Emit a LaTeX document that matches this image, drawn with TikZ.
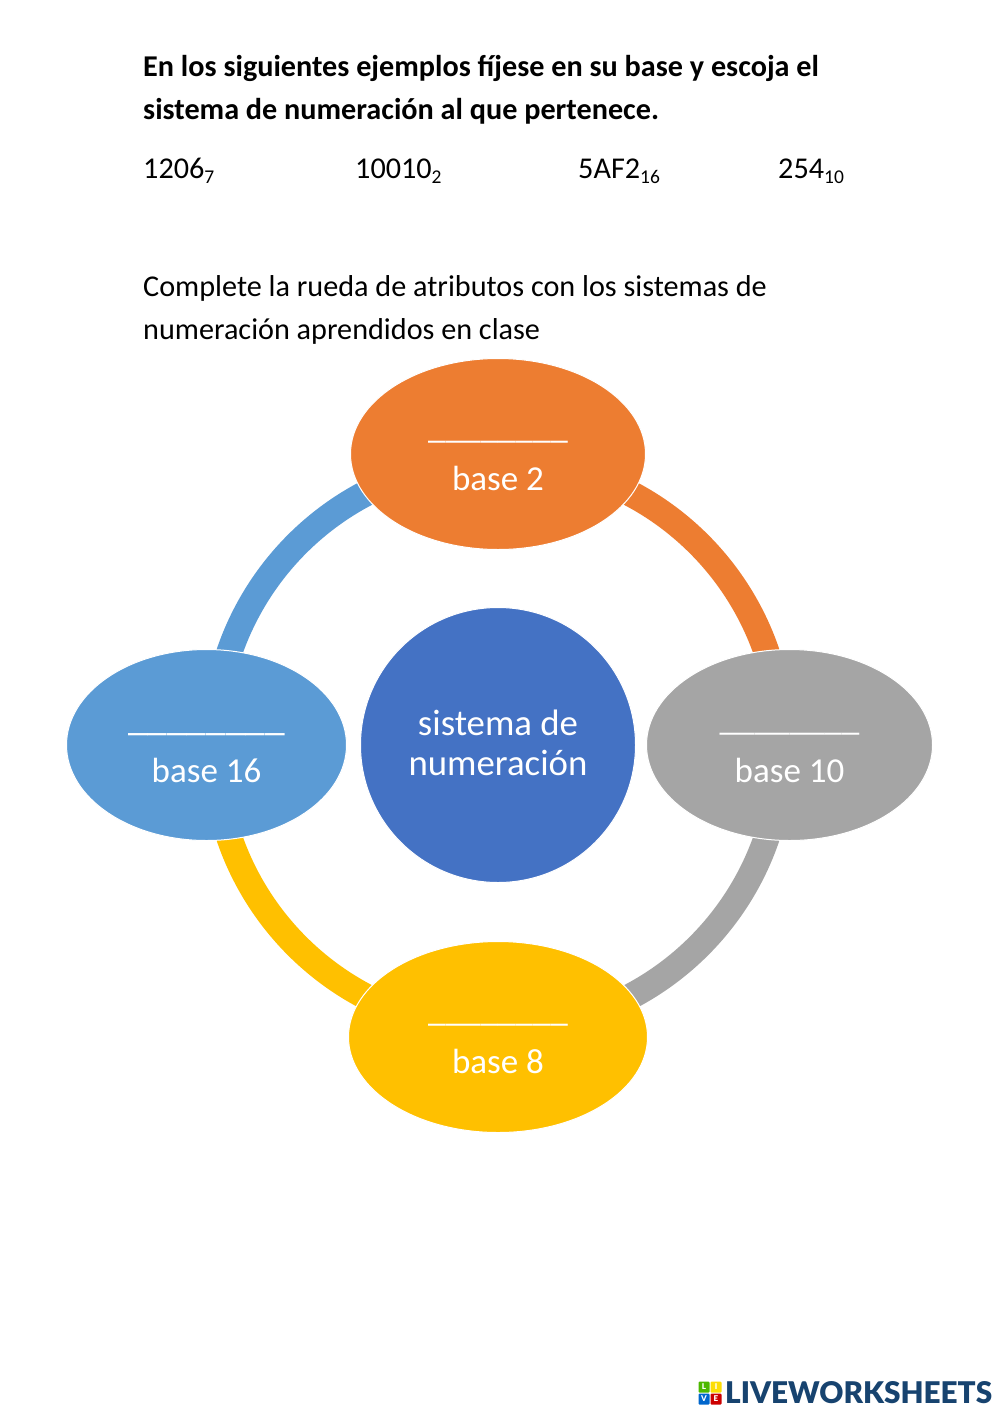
\documentclass[tikz,border=0pt]{standalone}
\usepackage{fontspec}
\setmainfont{Carlito}
\newfontfamily\logofont{Lato Black}
\usetikzlibrary{shapes.geometric,backgrounds}
\definecolor{cOrange}{HTML}{ED7D31}
\definecolor{cGray}{HTML}{A5A5A5}
\definecolor{cYellow}{HTML}{FFC000}
\definecolor{cBlue}{HTML}{5B9BD5}
\definecolor{cCenter}{HTML}{4472C4}
\definecolor{cLogo}{HTML}{17436F}
\tikzset{
  x=1pt,y=-1pt,
  bubble/.style={ellipse,inner sep=0pt,draw=white,line width=1pt,text=white,align=center,font=\fontsize{35}{40}\selectfont},
  ringarc/.style={line width=26pt,line cap=butt},
  para/.style={anchor=base west,inner sep=0pt,font=\fontsize{30.2}{36}\selectfont},
  head/.style={para,font=\fontsize{30.2}{36}\selectfont\bfseries},
  num/.style={para},
  logosq/.style={minimum size=11pt,inner sep=0pt,rounded corners=1pt,text=white,font=\logofont\fontsize{8}{8}\selectfont}
}
\newcommand{\blank}[1]{\resizebox{#1pt}{!}{\_\_\_\_\_\_\_\_}}
\newcommand{\subnum}[1]{\raisebox{-5pt}{\fontsize{19.5}{20}\selectfont #1}}
\begin{document}
\begin{tikzpicture}
\useasboundingbox (0,0) rectangle (1000,1413);
\fill[white] (0,0) rectangle (1000,1413);
\node[head] (h1) at (143,77) {En los siguientes ejemplos fíjese en su base y escoja el};
\node[head] (h2) at (143,119) {sistema de numeración al que pertenece.};
\node[num] (n1) at (143,178) {1206\subnum{7}};
\node[num] (n2) at (355,178) {10010\subnum{2}};
\node[num] (n3) at (578,178) {5AF2\subnum{16}};
\node[num] (n4) at (778,178) {254\subnum{10}};
\node[para] (p1) at (143,296) {Complete la rueda de atributos con los sistemas de};
\node[para] (p2) at (143,339) {numeración aprendidos en clase};
% ring anchor points
\coordinate (rN) at (498,461);
\coordinate (rE) at (782,745);
\coordinate (rS) at (498,1029);
\coordinate (rW) at (214,745);
\draw[ringarc,cOrange] (rN) to[bend left=45] (rE);
\draw[ringarc,cGray] (rE) to[bend left=45] (rS);
\draw[ringarc,cYellow] (rS) to[bend left=45] (rW);
\draw[ringarc,cBlue] (rW) to[bend left=45] (rN);
% bubbles
\node[bubble,fill=cOrange,minimum width=295pt,minimum height=191pt] (top) at (498,454) {};
\node[bubble,fill=cGray,minimum width=286pt,minimum height=191pt] (right) at (789.5,745) {};
\node[bubble,fill=cYellow,minimum width=299pt,minimum height=191pt] (bottom) at (498,1037) {};
\node[bubble,fill=cBlue,minimum width=280pt,minimum height=191pt] (left) at (206.5,745) {};
\node[bubble,fill=cCenter,circle,minimum size=275pt] (center) at (498,745) {};
% labels
\node[bubble,draw=none,anchor=base] (t1) at (498,438) {\blank{140}};
\node[bubble,draw=none,anchor=base] (t2) at (498,490) {base 2};
\node[bubble,draw=none,anchor=base] (r1) at (789.5,730) {\blank{140}};
\node[bubble,draw=none,anchor=base] (r2) at (789.5,782) {base 10};
\node[bubble,draw=none,anchor=base] (b1) at (498,1021) {\blank{140}};
\node[bubble,draw=none,anchor=base] (b2) at (498,1073) {base 8};
\node[bubble,draw=none,anchor=base] (l1) at (206.5,730) {\blank{157}};
\node[bubble,draw=none,anchor=base] (l2) at (206.5,782) {base 16};
\node[bubble,draw=none,anchor=base,font=\fontsize{36.8}{40}\selectfont] (c1) at (498,735.5) {sistema de};
\node[bubble,draw=none,anchor=base,font=\fontsize{36.8}{40}\selectfont] (c2) at (498,775.5) {numeración};
% logo
\node[logosq,fill=green!60!black!70!yellow] (lL) at (704,1387) {L};
\node[logosq,fill=yellow!80!orange] (lI) at (716,1387) {I};
\node[logosq,fill=blue!50!cyan!80!black] (lV) at (704,1399) {V};
\node[logosq,fill=red!80!black] (lE) at (716,1399) {E};
\node[anchor=base west,inner sep=0pt,text=cLogo,font=\logofont\fontsize{32}{32}\selectfont] (logo) at (725,1403) {\resizebox{267pt}{22pt}{LIVEWORKSHEETS}};
\end{tikzpicture}
\end{document}
